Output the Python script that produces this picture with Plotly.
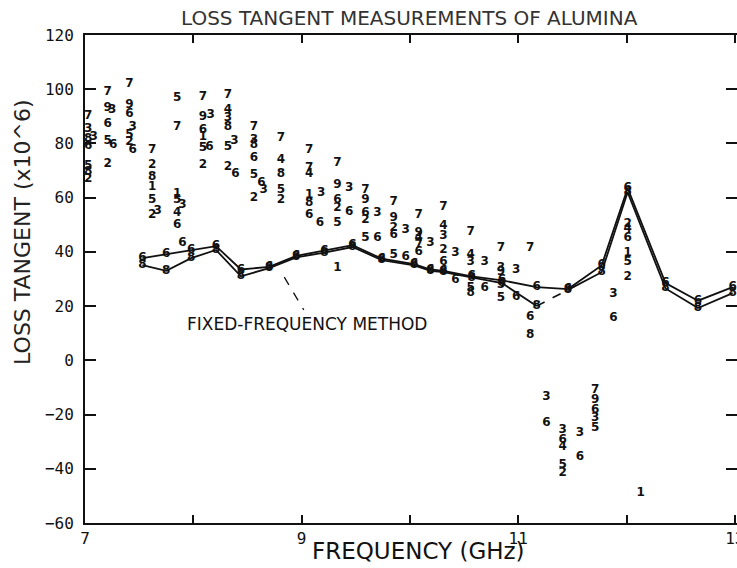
import plotly.graph_objects as go

# ---- fixed-frequency method (two connected series) ----
line_freq = [7.53, 7.75, 7.98, 8.21, 8.44, 8.70, 8.95, 9.21, 9.47, 9.74, 10.04,
             10.19, 10.31, 10.57, 10.85, 11.17, 11.46, 11.77, 12.01, 12.36, 12.66, 12.98]
line_upper = [37.7, 39.2, 40.7, 42.1, 33.5, 34.5, 38.5, 40.5, 42.5, 37.5, 35.5,
              33.5, 33.0, 31.0, 29.5, 27.0, 26.3, 35.0, 63.5, 28.5, 22.0, 27.0]
line_lower = [35.1, 33.0, 37.7, 40.7, 31.0, 34.0, 38.0, 39.7, 41.8, 37.0, 35.0,
              33.0, 32.5, 30.5, 28.5, 20.0, 26.0, 32.5, 62.0, 26.5, 19.3, 24.8]
upper_digit = "6"
lower_digit = "8"
dashed_from = 15  # lower series: segment 15 -> 16 drawn dashed

# ---- scattered digit-coded measurements ----
pt_freq = [
    7.03, 7.03, 7.03, 7.08, 7.03, 7.03, 7.03, 7.03,
    7.21, 7.21, 7.25, 7.21, 7.21, 7.26, 7.21,
    7.41, 7.41, 7.41, 7.44, 7.41, 7.41, 7.44,
    7.62, 7.62, 7.62, 7.62, 7.62, 7.62, 7.67,
    7.85, 7.85, 7.85, 7.85, 7.90, 7.85, 7.85, 7.90,
    8.09, 8.09, 8.16, 8.09, 8.09, 8.09, 8.15, 8.09,
    8.32, 8.32, 8.32, 8.32, 8.32, 8.38, 8.32, 8.39,
    8.56, 8.56, 8.56, 8.56, 8.56, 8.63, 8.65, 8.56,
    8.81, 8.81, 8.81, 8.81, 8.81,
    9.07, 9.07, 9.07, 9.07, 9.18, 9.07, 9.07, 9.17,
    9.33, 9.33, 9.44, 9.33, 9.33, 9.44, 9.33, 9.33,
    9.59, 9.59, 9.59, 9.70, 9.59, 9.59, 9.70,
    9.85, 9.85, 9.85, 9.96, 9.85, 9.85, 9.96,
    10.08, 10.08, 10.08, 10.19, 10.08, 10.08,
    10.31, 10.31, 10.31, 10.31, 10.42, 10.31, 10.42,
    10.56, 10.56, 10.56, 10.69, 10.56, 10.56, 10.69,
    10.84, 10.84, 10.84, 10.98, 10.84, 10.84, 10.98,
    11.11, 11.11, 11.11,
    11.26, 11.26,
    11.41, 11.41, 11.41, 11.41, 11.41,
    11.57, 11.57,
    11.71, 11.71, 11.71, 11.71, 11.71,
    11.88, 11.88,
    12.01, 12.01, 12.01, 12.01, 12.01, 12.01,
    12.13,
]
pt_loss = [
    90.0, 85.5, 81.5, 82.5, 79.0, 71.5, 69.5, 67.0,
    99.0, 93.0, 92.5, 87.0, 81.0, 79.5, 72.5,
    102.0, 94.0, 91.0, 86.0, 83.0, 80.5, 77.6,
    77.6, 72.0, 67.6, 64.0, 59.1, 53.6, 55.0,
    96.8, 86.1, 61.5, 59.1, 57.3, 54.4, 49.9, 43.3,
    97.1, 89.7, 90.5, 85.0, 82.4, 78.3, 78.7, 72.0,
    97.9, 92.3, 89.5, 86.1, 78.7, 80.9, 71.3, 68.7,
    86.1, 81.3, 79.4, 74.6, 68.3, 65.5, 63.0, 59.9,
    82.0, 73.9, 68.7, 62.8, 59.1,
    77.6, 70.9, 68.7, 61.0, 61.7, 58.0, 53.6, 50.6,
    72.8, 64.7, 63.6, 59.1, 56.2, 54.7, 50.6, 34.0,
    62.8, 59.1, 54.3, 54.3, 51.8, 45.1, 45.1,
    58.4, 52.5, 48.8, 48.1, 46.2, 38.8, 38.1,
    53.6, 46.9, 45.2, 43.3, 42.6, 40.0,
    56.6, 49.6, 45.9, 40.7, 39.6, 36.3, 29.6,
    47.3, 38.8, 36.3, 36.3, 26.7, 24.9, 26.7,
    41.4, 34.0, 32.6, 33.3, 27.8, 23.0, 23.4,
    41.4, 16.0, 9.3,
    -13.5, -23.2,
    -25.7, -29.4, -32.0, -38.6, -41.6,
    -26.9, -35.7,
    -10.9, -14.6, -18.3, -21.3, -25.0,
    24.5, 15.6,
    50.2, 48.5, 45.1, 39.6, 36.3, 30.8,
    -49.0,
]
pt_digit = [
    "7", "3", "8", "3", "6", "5", "8", "2",
    "7", "9", "3", "6", "5", "6", "2",
    "7", "9", "6", "3", "5", "2", "6",
    "7", "2", "8", "1", "5", "2", "3",
    "5", "7", "1", "5", "3", "4", "6", "6",
    "7", "9", "3", "6", "1", "5", "6", "2",
    "7", "4", "3", "8", "5", "3", "2", "6",
    "7", "3", "8", "6", "5", "6", "3", "2",
    "7", "4", "8", "5", "2",
    "7", "7", "4", "1", "3", "8", "6", "6",
    "7", "9", "3", "6", "2", "6", "5", "1",
    "7", "9", "6", "3", "2", "5", "6",
    "7", "9", "2", "3", "6", "5", "6",
    "7", "9", "4", "3", "7", "6",
    "7", "4", "3", "2", "3", "6", "6",
    "7", "4", "3", "3", "5", "8", "6",
    "7", "3", "9", "3", "5", "5", "6",
    "7", "6", "8",
    "3", "6",
    "3", "6", "4", "5", "2",
    "3", "6",
    "7", "9", "6", "3", "5",
    "3", "6",
    "2", "4", "6", "1", "5", "2",
    "1",
]

# annotation leader (from label up to the curve)
leader_freq = [8.84, 9.02]
leader_loss = [30.7, 18.6]
label_freq = 9.05
label_loss = 13.4

y_ticks = [-60, -40, -20, 0, 20, 40, 60, 80, 100, 120]
x_ticks = [7, 8, 9, 10, 11, 12, 13]
x_ticktext = ["7", "", "9", "", "11", "", "13"]

INK = "#111111"
DIGIT_FONT = dict(family="DejaVu Sans", size=12, color=INK, weight="bold")

fig = go.Figure()

fig.add_trace(go.Scatter(x=pt_freq, y=pt_loss, text=pt_digit, mode="text",
                         textfont=DIGIT_FONT, textposition="middle center",
                         hoverinfo="skip"))

fig.add_trace(go.Scatter(x=line_freq, y=line_upper, mode="lines+text",
                         text=[upper_digit] * len(line_freq),
                         textposition="middle center", textfont=DIGIT_FONT,
                         line=dict(color=INK, width=1.8)))

k = dashed_from
fig.add_trace(go.Scatter(x=line_freq[:k + 1], y=line_lower[:k + 1], mode="lines+text",
                         text=[lower_digit] * (k + 1),
                         textposition="middle center", textfont=DIGIT_FONT,
                         line=dict(color=INK, width=1.8)))
fig.add_trace(go.Scatter(x=line_freq[k:k + 2], y=line_lower[k:k + 2], mode="lines",
                         line=dict(color=INK, width=1.6, dash="dash")))
fig.add_trace(go.Scatter(x=line_freq[k + 1:], y=line_lower[k + 1:], mode="lines+text",
                         text=[lower_digit] * len(line_freq[k + 1:]),
                         textposition="middle center", textfont=DIGIT_FONT,
                         line=dict(color=INK, width=1.8)))

fig.add_trace(go.Scatter(x=leader_freq, y=leader_loss, mode="lines",
                         line=dict(color=INK, width=1.3, dash="dash")))

fig.add_annotation(x=label_freq, y=label_loss, xref="x", yref="y",
                   text="FIXED-FREQUENCY METHOD", showarrow=False,
                   xanchor="center", yanchor="middle",
                   font=dict(family="DejaVu Sans", size=17, color=INK))

fig.add_annotation(x=0.498, y=1.035, xref="paper", yref="paper",
                   text="LOSS TANGENT MEASUREMENTS OF ALUMINA", showarrow=False,
                   xanchor="center", yanchor="middle",
                   font=dict(family="DejaVu Sans", size=20, color="#333333"))
fig.add_annotation(x=0.511, y=-0.057, xref="paper", yref="paper",
                   text="FREQUENCY (GHz)", showarrow=False,
                   xanchor="center", yanchor="middle",
                   font=dict(family="DejaVu Sans", size=23, color=INK))
fig.add_annotation(x=-0.097, y=0.596, xref="paper", yref="paper",
                   text="LOSS TANGENT (x10^6)", showarrow=False, textangle=-90,
                   xanchor="center", yanchor="middle",
                   font=dict(family="DejaVu Sans", size=22, color="#222222"))

axis_common = dict(showgrid=False, zeroline=False, showline=True, linecolor=INK,
                   linewidth=2, mirror="ticks", ticks="inside", tickcolor=INK,
                   tickwidth=1.5, automargin=False,
                   tickfont=dict(family="DejaVu Sans Mono", size=16, color=INK))

fig.update_xaxes(range=[7, 13.02], tickvals=x_ticks, ticktext=x_ticktext,
                 ticklen=8, ticklabeloverflow="allow", **axis_common)
fig.update_yaxes(range=[-60, 120], tickvals=y_ticks, ticklen=11,
                 ticklabelstandoff=6, **axis_common)

fig.update_layout(width=737, height=568, margin=dict(l=85, r=0, t=35, b=45),
                  plot_bgcolor="white", paper_bgcolor="white", showlegend=False)

fig.write_html("out.html")
